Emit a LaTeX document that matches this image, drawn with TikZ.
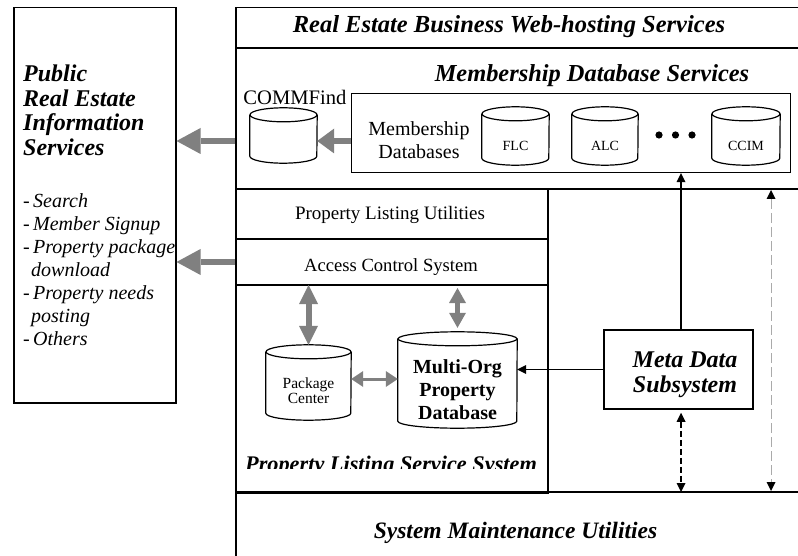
\documentclass[tikz,border=0pt]{standalone}
\usepackage{fontspec}
\setmainfont{Liberation Serif}
\usetikzlibrary{arrows.meta,calc}
\definecolor{ag}{RGB}{128,128,128}
\definecolor{lg}{RGB}{170,170,170}
\newcommand\dbcyl[8]{%
  \node[minimum width=#4pt, minimum height=#5pt, inner sep=0pt] (#1) at (#2,#3) {};
  \draw[cylline] ($(#1.north west)+(0,7)$) -- ($(#1.south west)+(0,-7)$)
     arc[start angle=180,end angle=0,x radius=#4/2,y radius=7] -- ($(#1.north east)+(0,7)$);
  \draw[cylline] ($(#1.north)+(0,7)$) ellipse[x radius=#4/2, y radius=7];
  \node[align=center, inner sep=0pt, font=#7] (#1-t) at ($(#1.center)+(0,#6)$) {#8};
}
\begin{document}
\begin{tikzpicture}[x=1pt,y=-1pt,
  box/.style={draw, line width=1.5pt},
  heavy/.style={line width=2.6pt},
  cylline/.style={line width=1.2pt},
  gbig/.style={draw=ag, line width=6.5pt, -{Triangle[length=24pt,width=26pt,line width=0pt,fill=ag,color=ag]}},
  gmid/.style={draw=ag, line width=6.5pt, -{Triangle[length=17pt,width=25pt,line width=0pt,fill=ag,color=ag]}},
  gdbl/.style={draw=ag, line width=6pt, {Triangle[length=19pt,width=19pt,line width=0pt,fill=ag,color=ag]}-{Triangle[length=19pt,width=19pt,line width=0pt,fill=ag,color=ag]}},
  gdbls/.style={draw=ag, line width=5pt, {Triangle[length=15pt,width=17pt,line width=0pt,fill=ag,color=ag]}-{Triangle[length=15pt,width=17pt,line width=0pt,fill=ag,color=ag]}},
  gdblh/.style={draw=ag, line width=3pt, {Triangle[length=12pt,width=16pt,line width=0pt,fill=ag,color=ag]}-{Triangle[length=12pt,width=16pt,line width=0pt,fill=ag,color=ag]}},
  barrow/.style={draw=black, line width=1.3pt, -{Triangle[length=9pt,width=9pt,line width=0pt]}},
  bdash/.style={draw=black, line width=1.4pt, dash pattern=on 6pt off 3pt, {Triangle[length=9pt,width=9pt,line width=0pt]}-{Triangle[length=9pt,width=9pt,line width=0pt]}},
  gdash/.style={draw=lg, line width=0.9pt, dash pattern=on 10pt off 4pt, {Triangle[length=9pt,width=9pt,line width=0pt,color=black,fill=black]}-{Triangle[length=9pt,width=9pt,line width=0pt,color=black,fill=black]}}
]
\useasboundingbox (0,0) rectangle (798,556);
\clip (0,0) rectangle (798,556);

% left box
\node[box, minimum width=162pt, minimum height=395pt, anchor=north west, inner sep=0pt] (pub) at (13,7) {};
\node[font=\fontsize{24}{24.4}\selectfont\bfseries\itshape, align=left, anchor=north west, inner sep=0pt] (pubtitle) at (23,65) {Public\\Real Estate\\Information\\Services};
\node[font=\fontsize{20}{23}\selectfont\itshape, align=left, anchor=north west, inner sep=0pt] (publist) at (23,193) {-\,Search\\-\,Member Signup\\-\,Property package\\\hspace*{8pt}download\\-\,Property needs\\\hspace*{8pt}posting\\-\,Others};

% main frame
\node[box, minimum width=620pt, minimum height=600pt, anchor=north west, inner sep=0pt] (host) at (235,7) {};
\node[font=\fontsize{24.5}{28}\selectfont\bfseries\itshape] (hosttitle) at (509,27) {Real Estate Business Web-hosting Services};
\draw[heavy] (235,48) -- (800,48);
\draw[heavy] (235,189) -- (800,189);
\draw[heavy] (235,492) -- (800,492);

% membership
\node[font=\fontsize{24.4}{28}\selectfont\bfseries\itshape] (mstitle) at (592,76) {Membership Database Services};
\node[draw, line width=1.2pt, minimum width=439pt, minimum height=79pt, anchor=north west, inner sep=0pt] (mdb) at (351,93) {};
\node[font=\fontsize{20}{23.5}\selectfont, align=center] (mdbtext) at (419,140) {Membership\\Databases};
\dbcyl{comm}{283.5}{135.5}{67}{55}{0}{}{}
\node[font=\fontsize{20.6}{24}\selectfont] (commlabel) at (295,97) {COMMFind};
\dbcyl{flc}{515.5}{136}{67}{58}{10}{\fontsize{14}{16}\selectfont}{FLC}
\dbcyl{alc}{605}{136}{66}{58}{10}{\fontsize{14}{16}\selectfont}{ALC}
\dbcyl{ccim}{746}{136}{68}{58}{10}{\fontsize{14}{16}\selectfont}{CCIM}
\fill (659,135) circle[radius=3.6] (675.5,135) circle[radius=3.6] (692,135) circle[radius=3.6];

% property listing system
\node[box, minimum width=312pt, minimum height=303pt, anchor=north west, inner sep=0pt] (pls) at (235,189) {};
\draw[line width=1.4pt] (235,239) -- (549,239);
\draw[line width=1.4pt] (235,285) -- (547,285);
\coordinate (acsb) at (0,285);
\node[font=\fontsize{19}{22}\selectfont] (plu) at (390,215) {Property Listing Utilities};
\node[font=\fontsize{18.6}{22}\selectfont] (acs) at (391,267) {Access Control System};
\dbcyl{pkg}{308.5}{382.5}{85}{75}{8}{\fontsize{15.5}{15}\selectfont}{Package\\Center}
\dbcyl{mo}{457.5}{380}{119}{96}{10}{\fontsize{20}{23}\selectfont\bfseries}{Multi-Org\\Property\\Database}
\begin{scope}
\clip (235,440) rectangle (547,468);
\node[font=\fontsize{22.3}{26}\selectfont\bfseries\itshape, anchor=base] (plss) at (391,471) {Property Listing Service System};
\end{scope}

% meta data
\node[draw, line width=1.5pt, minimum width=149pt, minimum height=79pt, inner sep=0pt] (meta) at (678.5,369.5) {};
\node[font=\fontsize{24}{25}\selectfont\bfseries\itshape, align=center] (metatext) at (685,374.5) {Meta Data\\Subsystem};

% maintenance
\node[font=\fontsize{23.5}{27}\selectfont\bfseries\itshape] (smu) at (515.5,533) {System Maintenance Utilities};
\coordinate (mline) at (0,492);
\coordinate (gtop) at (771,190);
\coordinate (gbot) at (771,491);

% gray arrows
\draw[gmid] (mdb.west |- 0,141) -- (comm.east |- 0,141);
\draw[gbig] (host.west |- 0,141) -- (pub.east |- 0,141);
\draw[gbig] (pls.west |- 0,262) -- (pub.east |- 0,262);
\draw[gdbl] (acsb -| pkg.north) -- (pkg.north);
\draw[gdbls] (acsb -| mo.north) ++(0,3) -- ($(mo.north)+(0,-4)$);
\draw[gdblh] (pkg.east |- 0,379) -- (mo.west |- 0,379);

% black arrows
\draw[barrow] (meta.north -| 681,0) -- (mdb.south -| 681,0);
\draw[barrow] (meta.west) -- (mo.east |- meta.west);
\draw[bdash] ($(meta.south -| 681,0)+(0,3)$) -- (mline -| 681,0);
\draw[gdash] (gtop) -- (gbot);
\end{tikzpicture}
\end{document}
